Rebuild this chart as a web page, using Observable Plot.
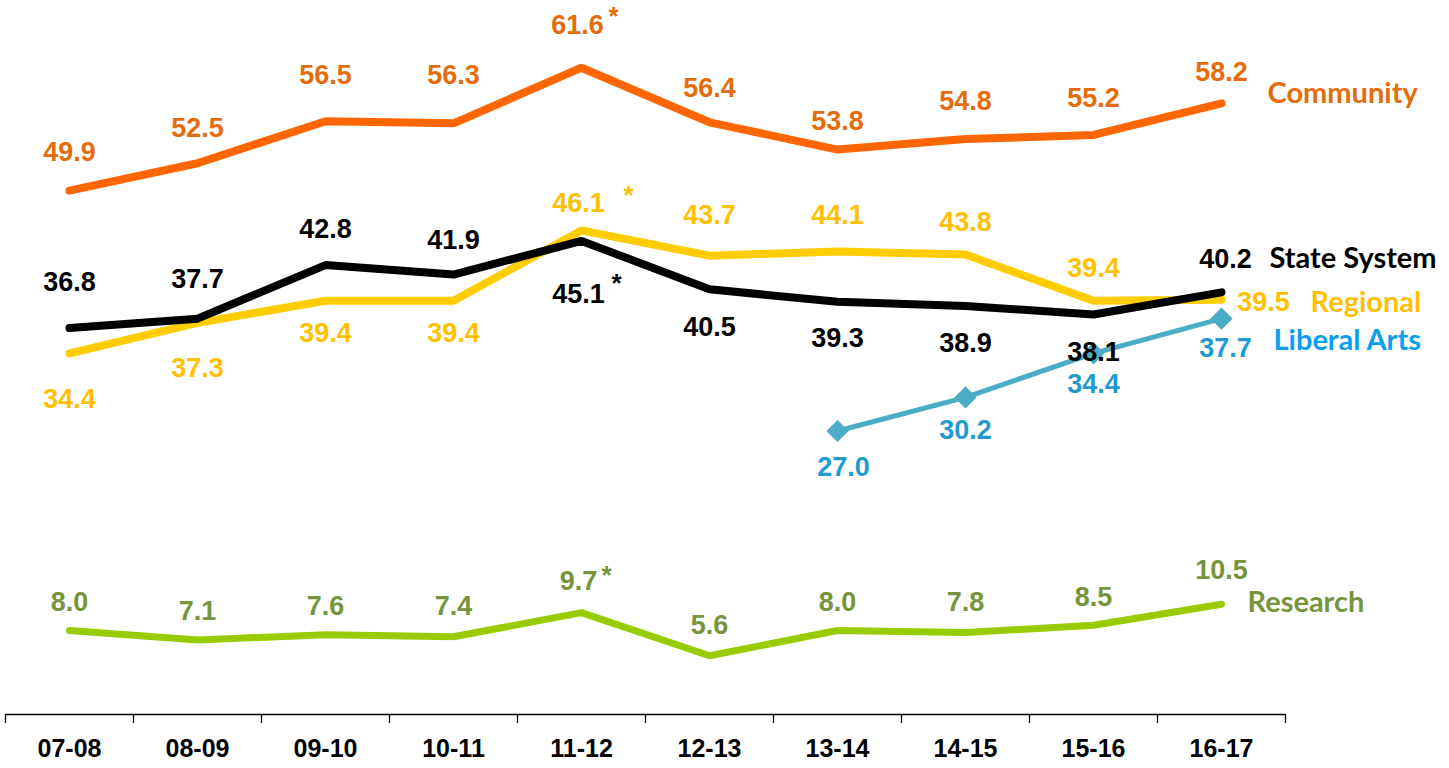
<!DOCTYPE html>
<html>
<head>
<meta charset="utf-8">
<script src="https://cdn.jsdelivr.net/npm/d3@7"></script>
<script src="https://cdn.jsdelivr.net/npm/@observablehq/plot@0.6"></script>
<style>
  html, body { margin: 0; padding: 0; background: #fff; }
  #chart svg { display: block; }
</style>
</head>
<body>
<div id="chart"></div>
<script>
// ---- data ----
const categories = ["07-08","08-09","09-10","10-11","11-12","12-13","13-14","14-15","15-16","16-17"];
const community   = [49.9, 52.5, 56.5, 56.3, 61.6, 56.4, 53.8, 54.8, 55.2, 58.2];
const stateSystem = [36.8, 37.7, 42.8, 41.9, 45.1, 40.5, 39.3, 38.9, 38.1, 40.2];
const regional    = [34.4, 37.3, 39.4, 39.4, 46.1, 43.7, 44.1, 43.8, 39.4, 39.5];
const liberalArts = [null, null, null, null, null, null, 27.0, 30.2, 34.4, 37.7];
const research    = [8.0, 7.1, 7.6, 7.4, 9.7, 5.6, 8.0, 7.8, 8.5, 10.5];
const significant = [false, false, false, false, true, false, false, false, false, false];
const seriesNames = ["Community", "State System", "Regional", "Liberal Arts", "Research"];

// ---- layout (label offsets in pixels, relative to each point) ----
const W = 1449, H = 768;
const mL = 5, mR = 164, mT = 0, mB = 54;
const yMax = 68;
const pxPerUnit = (H - mT - mB) / yMax;
const step = (W - mL - mR) / categories.length;

const numFont = "'Liberation Sans', Arial, sans-serif";
const nameFont = "Lato, 'Open Sans', sans-serif";

const styles = {
  "Community":    {values: community,   line: "#FF6600", label: "#E46C0A", width: 8,
                   dy: [-38, -35, -46, -48, -42, -34, -28, -38, -37, -31],
                   dx: [0, 0, 0, 0, -4, 0, 0, 0, 0, 0],
                   nameDx: 46, nameDy: -10, star: [32, -9]},
  "State System": {values: stateSystem, line: "#000000", label: "#000000", width: 8,
                   dy: [-46, -39, -36, -34, 53, 38, 37, 37, 38, -33],
                   dx: [0, 0, 0, 0, -3, 0, 0, 0, 0, 4],
                   nameDx: 48, nameDy: -34, star: [35, -10]},
  "Regional":     {values: regional,    line: "#FFCC00", label: "#FFC000", width: 8,
                   dy: [46, 46, 33, 33, -27, -40, -36, -32, -32, 3],
                   dx: [0, 0, 0, 0, -3, 0, 0, 0, 0, 42],
                   nameDx: 89, nameDy: 3, star: [47, -8]},
  "Liberal Arts": {values: liberalArts, line: "#4BACC6", label: "#1F9BCF", nameColor: "#0A9EF0", width: 5,
                   dy: [0, 0, 0, 0, 0, 0, 36, 33, 31, 30],
                   dx: [0, 0, 0, 0, 0, 0, 6, 0, 0, 4],
                   nameDx: 52, nameDy: 22},
  "Research":     {values: research,    line: "#99CC00", label: "#77933C", width: 7,
                   dy: [-28, -29, -28, -30, -31, -30, -28, -30, -28, -34],
                   dx: [0, 0, 0, 0, -3, 0, 0, 0, 0, 0],
                   nameDx: 26, nameDy: -2, star: [25, -6]}
};
const drawOrder = ["Community", "Research", "Regional", "State System", "Liberal Arts"];

function rows(name) {
  const s = styles[name];
  return categories.map((c, i) => ({cat: c, i, value: s.values[i], name, star: significant[i],
      ldx: s.dx[i], ldy: s.dy[i]}))
    .filter(d => d.value != null);
}

const marks = [];
// axis line and boundary ticks
marks.push(Plot.ruleY([0], {stroke: "#000", strokeWidth: 1.3}));
marks.push(Plot.ruleX(categories, {x: d => d, dx: -step / 2, y1: 0, y2: -9 / pxPerUnit, stroke: "#000", strokeWidth: 1.3}));
marks.push(Plot.ruleX(categories.slice(-1), {x: d => d, dx: step / 2, y1: 0, y2: -9 / pxPerUnit, stroke: "#000", strokeWidth: 1.3}));

for (const name of drawOrder) {
  const s = styles[name];
  const data = rows(name);
  marks.push(Plot.line(data, {x: "cat", y: "value", stroke: s.line, strokeWidth: s.width,
    strokeLinejoin: "miter", strokeLinecap: "round"}));
  if (name === "Liberal Arts") {
    marks.push(Plot.dot(data, {x: "cat", y: "value", symbol: "diamond2", r: 10, fill: s.line, stroke: "none"}));
  }
}

for (const name of seriesNames) {
  const s = styles[name];
  const data = rows(name);
  for (const d of data) {
    marks.push(Plot.text([d], {x: "cat", y: "value", text: v => v.value.toFixed(1), dx: d.ldx, dy: d.ldy,
      fill: s.label, fontSize: 27, fontWeight: "bold", fontFamily: numFont, letterSpacing: 1.6}));
    if (d.star && s.star) {
      marks.push(Plot.text([d], {x: "cat", y: "value", text: () => "*", dx: s.star[0], dy: d.ldy + s.star[1],
        fill: s.label, fontSize: 26, fontWeight: "bold", fontFamily: numFont}));
    }
  }
  const last = data[data.length - 1];
  marks.push(Plot.text([last], {x: "cat", y: "value", text: () => name, dx: s.nameDx, dy: s.nameDy,
    textAnchor: "start", fill: s.nameColor || s.label, fontSize: 29, fontWeight: "bold", fontFamily: nameFont,
    letterSpacing: 0.8}));
}

marks.push(Plot.axisX({tickSize: 0, tickPadding: 25, fontSize: 25, fontWeight: "bold", fontFamily: numFont,
  color: "#000", label: null, letterSpacing: 0.6}));

const chart = Plot.plot({
  width: W, height: H,
  marginLeft: mL, marginRight: mR, marginTop: mT, marginBottom: mB,
  x: {type: "point", domain: categories, padding: 0.5, label: null},
  y: {domain: [0, yMax], axis: null},
  style: {background: "#fff", overflow: "visible"},
  marks
});
document.getElementById("chart").appendChild(chart);
</script>
</body>
</html>
